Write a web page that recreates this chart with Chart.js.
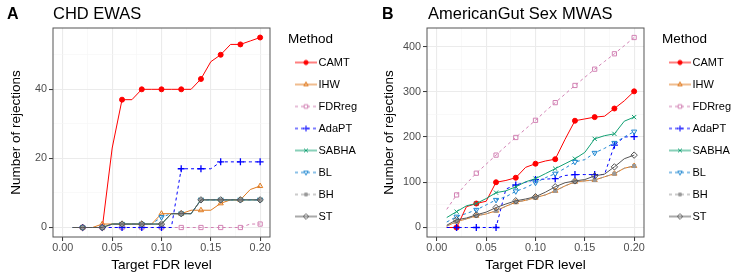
<!DOCTYPE html>
<html>
<head>
<meta charset="utf-8">
<script src="https://cdn.jsdelivr.net/npm/chart.js@4.4.1/dist/chart.umd.min.js"></script>
<style>
  body { margin: 0; background: #fff; font-family: 'Liberation Sans', Arial, sans-serif; }
  #figure { position: relative; width: 747px; height: 280px; overflow: hidden; }
  .panel { position: absolute; top: 0; height: 280px; }
  .tag { position: absolute; top: 6px; font-size: 16px; line-height: 16px; font-weight: bold; color: #000; }
  .title { position: absolute; top: 5px; font-size: 16.5px; line-height: 16.5px; color: #000; white-space: nowrap; }
  canvas { position: absolute; left: 0; top: 0; }
</style>
</head>
<body>
<div id="figure">
  <div class="panel" style="left:0;width:373px">
    <canvas id="chart-a" width="373" height="280"></canvas>
    <span class="tag" style="left:7px">A</span>
    <span class="title" style="left:53px">CHD EWAS</span>
  </div>
  <div class="panel" style="left:373px;width:374px">
    <canvas id="chart-b" width="374" height="280"></canvas>
    <span class="tag" style="left:9px">B</span>
    <span class="title" style="left:55px">AmericanGut Sex MWAS</span>
  </div>
</div>
<script>
const FONT = "'Liberation Sans', Arial, sans-serif";

// target FDR levels (x) and methods, in legend order
const FDR_LEVELS = [0.01, 0.02, 0.03, 0.04, 0.05, 0.06, 0.07, 0.08, 0.09, 0.10,
                    0.11, 0.12, 0.13, 0.14, 0.15, 0.16, 0.17, 0.18, 0.19, 0.20];
const METHODS = ['CAMT', 'IHW', 'FDRreg', 'AdaPT', 'SABHA', 'BL', 'BH', 'ST'];

const X_TICKS = [0, 0.05, 0.1, 0.15, 0.2];
const X_MINOR = [0.025, 0.075, 0.125, 0.175];
const Y_TICKS_A = [0, 20, 40];
const Y_MINOR_A = [10, 30, 50];
const Y_TICKS_B = [0, 100, 200, 300, 400];
const Y_MINOR_B = [50, 150, 250, 350];

// panel A: CHD EWAS
const CHD_CAMT   = [0, 0, 0, 0, 23, 37, 37, 40, 40, 40, 40, 40, 40, 43, 48, 50, 53, 53, 54, 55];
const CHD_IHW    = [0, 0, 0, 1, 1, 1, 1, 1, 1, 4, 4, 4, 5, 5, 5, 7, 8, 8, 11, 12];
const CHD_FDRREG = [0, 0, 0, 0, 0, 0, 0, 0, 0, 0, 0, 0, 0, 0, 0, 0, 0, 0, 1, 1];
const CHD_ADAPT  = [0, 0, 0, 0, 0, 0, 0, 0, 0, 0, 0, 17, 17, 17, 17, 19, 19, 19, 19, 19];
const CHD_SABHA  = [0, 0, 0, 0, 1, 1, 1, 1, 1, 1, 4, 4, 4, 8, 8, 8, 8, 8, 8, 8];
const CHD_BL     = [0, 0, 0, 0, 1, 1, 1, 1, 1, 3, 4, 4, 4, 8, 8, 8, 8, 8, 8, 8];
const CHD_BH     = [0, 0, 0, 0, 1, 1, 1, 1, 1, 1, 4, 4, 4, 8, 8, 8, 8, 8, 8, 8];
const CHD_ST     = [0, 0, 0, 0, 1, 1, 1, 1, 1, 1, 4, 4, 4, 8, 8, 8, 8, 8, 8, 8];

// panel B: AmericanGut Sex MWAS
const AG_CAMT   = [0, 0, 46, 53, 58, 100, 104, 110, 133, 141, 147, 151, 195, 236, 240, 244, 246, 263, 280, 301];
const AG_IHW    = [3, 13, 19, 26, 30, 37, 47, 56, 60, 66, 72, 81, 92, 101, 103, 105, 112, 119, 131, 136];
const AG_FDRREG = [40, 72, 97, 120, 140, 160, 180, 199, 218, 237, 257, 276, 295, 314, 332, 350, 367, 384, 402, 420];
const AG_ADAPT  = [0, 0, 0, 0, 0, 0, 85, 94, 100, 106, 107, 108, 115, 117, 117, 117, 117, 182, 200, 201];
const AG_SABHA  = [22, 35, 48, 53, 64, 77, 81, 90, 101, 108, 119, 130, 141, 152, 166, 196, 203, 207, 235, 244];
const AG_BL     = [12, 24, 31, 39, 50, 61, 68, 80, 88, 99, 110, 119, 131, 145, 150, 165, 175, 187, 200, 212];
const AG_BH     = [3, 13, 19, 26, 30, 37, 47, 56, 60, 66, 72, 81, 92, 101, 103, 105, 112, 119, 131, 136];
const AG_ST     = [5, 17, 21, 28, 34, 44, 52, 59, 63, 68, 78, 90, 99, 103, 106, 114, 118, 134, 152, 160];

const CHD_SERIES = [CHD_CAMT, CHD_IHW, CHD_FDRREG, CHD_ADAPT, CHD_SABHA, CHD_BL, CHD_BH, CHD_ST];
const AG_SERIES = [AG_CAMT, AG_IHW, AG_FDRREG, AG_ADAPT, AG_SABHA, AG_BL, AG_BH, AG_ST];

const STYLES = {
  CAMT:   { color: '#ff0000', dash: [],     point: 'circle',   radius: 2.5, fill: true },
  IHW:    { color: '#e07a1f', dash: [],     point: 'triangle', radius: 3,   fill: false },
  FDRreg: { color: '#d282b4', dash: [3, 3], point: 'rect',     radius: 3,   fill: false },
  AdaPT:  { color: '#0000ff', dash: [3, 3], point: 'cross',    radius: 3.5, fill: false },
  SABHA:  { color: '#12a073', dash: [],     point: 'crossRot', radius: 3,   fill: false },
  BL:     { color: '#1c86d1', dash: [3, 3], point: 'triangle', radius: 3,   fill: false, rotation: 180 },
  BH:     { color: '#999999', dash: [3, 3], point: 'rect',     radius: 2.2, fill: true },
  ST:     { color: '#555555', dash: [],     point: 'rectRot',  radius: 3.2, fill: false },
};

function legendKey(method) {
  const s = STYLES[method];
  const c = document.createElement('canvas');
  c.width = 22;
  c.height = 12;
  const ctx = c.getContext('2d');
  ctx.strokeStyle = s.color;
  ctx.lineWidth = 1;
  ctx.setLineDash(s.dash);
  ctx.beginPath();
  ctx.moveTo(0, 6);
  ctx.lineTo(22, 6);
  ctx.stroke();
  ctx.setLineDash([]);
  ctx.fillStyle = s.fill ? s.color : 'rgba(0,0,0,0)';
  Chart.helpers.drawPoint(ctx, {
    pointStyle: s.point,
    rotation: s.rotation || 0,
    radius: s.radius * 0.85,
    borderWidth: 1,
  }, 11, 6);
  return c;
}

function buildDatasets(series) {
  return METHODS.map((m, i) => {
    const s = STYLES[m];
    return {
      label: m,
      data: FDR_LEVELS.map((x, j) => ({ x, y: series[i][j] })),
      borderColor: s.color,
      backgroundColor: s.color,
      borderWidth: 1,
      borderDash: s.dash,
      tension: 0,
      pointStyle: s.point,
      pointRotation: s.rotation || 0,
      pointRadius: (ctx) => (ctx.dataIndex % 2 === 1 ? s.radius : 0),
      pointBorderWidth: m === 'AdaPT' ? 1.3 : 1,
      pointBorderColor: s.color,
      pointBackgroundColor: s.fill ? s.color : 'rgba(0,0,0,0)',
      order: METHODS.length - i,
    };
  });
}

function gridOpts(majors) {
  const isMajor = (ctx) => ctx.tick && majors.includes(ctx.tick.value);
  return {
    color: (ctx) => (isMajor(ctx) ? '#ebebeb' : '#f5f5f5'),
    lineWidth: (ctx) => (isMajor(ctx) ? 1.1 : 0.6),
    tickColor: (ctx) => (isMajor(ctx) ? '#333333' : 'rgba(0,0,0,0)'),
    tickLength: 4,
    tickWidth: 1,
  };
}

function setTicks(majors, minors) {
  return (scale) => {
    scale.ticks = [...majors, ...minors].sort((a, b) => a - b).map((v) => ({ value: v }));
  };
}

const panelBorder = {
  id: 'panelBorder',
  afterDatasetsDraw(chart) {
    const { ctx, chartArea: { left, top, right, bottom } } = chart;
    ctx.save();
    ctx.strokeStyle = '#555555';
    ctx.lineWidth = 1;
    ctx.strokeRect(left, top, right - left, bottom - top);
    ctx.restore();
  },
};

function renderPanel(canvasId, series, yLimits, yTicks, yMinor, yWidth) {
  return new Chart(document.getElementById(canvasId), {
    type: 'line',
    data: { datasets: buildDatasets(series) },
    plugins: [panelBorder],
    options: {
      responsive: false,
      animation: false,
      events: [],
      layout: { padding: { top: 28, right: 6, bottom: 2, left: 0 } },
      plugins: {
        tooltip: { enabled: false },
        legend: {
          position: 'right',
          align: 'start',
          maxWidth: 100,
          title: {
            display: true,
            text: 'Method',
            color: '#000',
            position: 'start',
            font: { family: FONT, size: 13.5, lineHeight: 1 },
            padding: { top: 4.5, bottom: 0 },
          },
          labels: {
            usePointStyle: true,
            pointStyleWidth: 14,
            padding: 11,
            color: '#000',
            font: { family: FONT, size: 11 },
            generateLabels(chart) {
              return chart.data.datasets.map((ds, i) => ({
                text: ds.label,
                pointStyle: legendKey(ds.label),
                datasetIndex: i,
                hidden: false,
                fillStyle: 'rgba(0,0,0,0)',
                strokeStyle: 'rgba(0,0,0,0)',
                lineWidth: 0,
                fontColor: '#000',
              }));
            },
          },
        },
      },
      scales: {
        x: {
          type: 'linear',
          min: -0.01,
          max: 0.21,
          bounds: 'data',
          afterBuildTicks: setTicks(X_TICKS, X_MINOR),
          grid: gridOpts(X_TICKS),
          border: { display: false },
          ticks: {
            autoSkip: false,
            maxRotation: 0,
            padding: 1,
            color: '#4d4d4d',
            font: { family: FONT, size: 10.8 },
            callback: (v) => (X_TICKS.includes(v) ? v.toFixed(2) : ''),
          },
          title: {
            display: true,
            text: 'Target FDR level',
            color: '#000',
            font: { family: FONT, size: 13.5 },
            padding: { top: 0, bottom: 5 },
          },
          afterFit: (s) => { s.height = 41; },
        },
        y: {
          type: 'linear',
          min: yLimits[0],
          max: yLimits[1],
          bounds: 'data',
          afterBuildTicks: setTicks(yTicks, yMinor),
          grid: gridOpts(yTicks),
          border: { display: false },
          ticks: {
            autoSkip: false,
            padding: 2,
            color: '#4d4d4d',
            font: { family: FONT, size: 10.8 },
            callback: (v) => (yTicks.includes(v) ? String(v) : ''),
          },
          title: {
            display: true,
            text: 'Number of rejections',
            color: '#000',
            font: { family: FONT, size: 13.5 },
            padding: { top: 8, bottom: 0 },
          },
          afterFit: (s) => { s.width = yWidth; },
        },
        gap: {
          type: 'linear',
          position: 'right',
          display: true,
          grid: { display: false, drawTicks: false },
          border: { display: false },
          ticks: { display: false },
          afterFit: (s) => { s.width = 18; },
        },
      },
    },
  });
}

function init() {
  Chart.defaults.font.family = FONT;
  renderPanel('chart-a', CHD_SERIES, [-2.75, 57.75], Y_TICKS_A, Y_MINOR_A, 53);
  renderPanel('chart-b', AG_SERIES, [-21, 441], Y_TICKS_B, Y_MINOR_B, 54);
}

document.addEventListener('DOMContentLoaded', init);
</script>
</body>
</html>
